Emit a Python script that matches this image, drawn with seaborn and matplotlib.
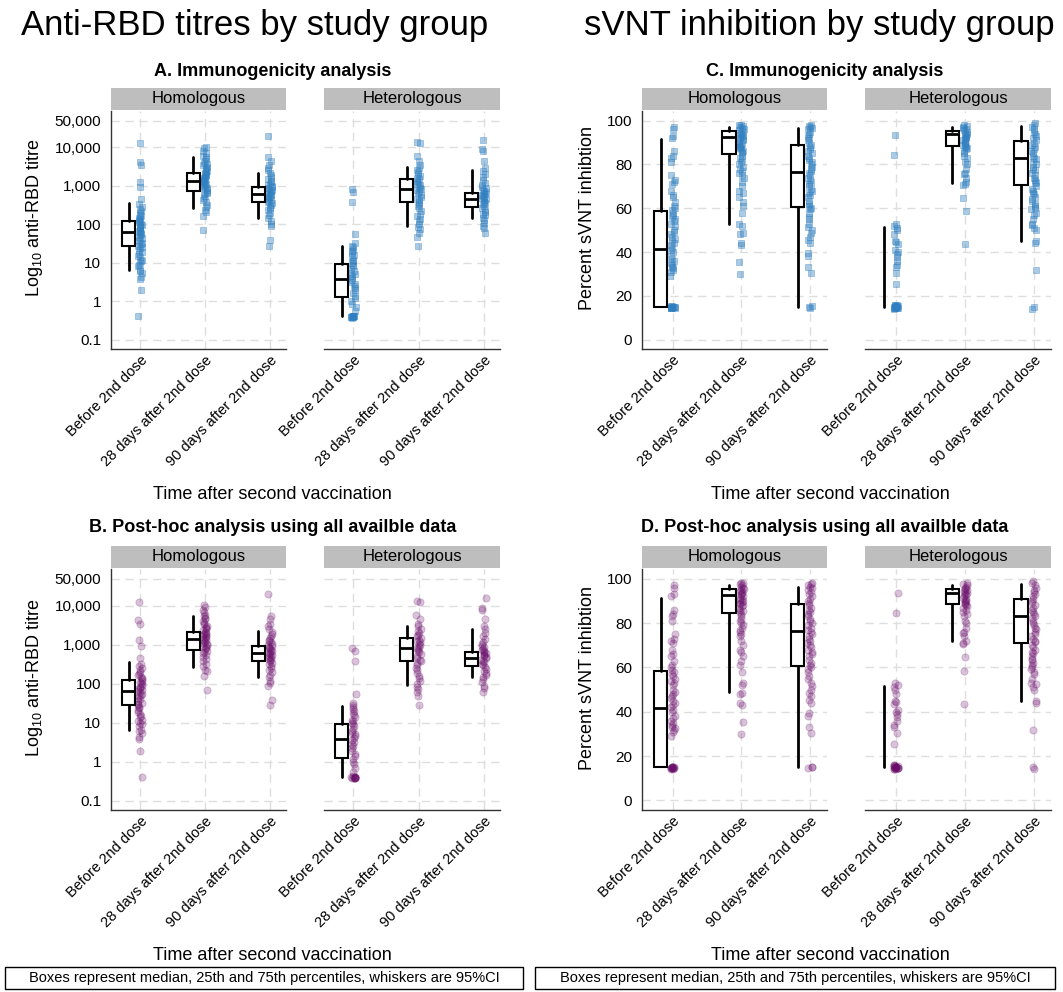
import numpy as np
import pandas as pd
import matplotlib
matplotlib.use("Agg")
import matplotlib.pyplot as plt
from matplotlib.patches import Rectangle
from matplotlib.ticker import NullLocator
import seaborn as sns

# ---- categories / labels ----
times = ["Before 2nd dose", "28 days after 2nd dose", "90 days after 2nd dose"]
groups = ["Homologous", "Heterologous"]
rbd_ticks = [0.1, 1, 10, 100, 1000, 10000, 50000]
rbd_tick_labels = ["0.1", "1", "10", "100", "1,000", "10,000", "50,000"]
svnt_ticks = [0, 20, 40, 60, 80, 100]
svnt_tick_labels = ["0", "20", "40", "60", "80", "100"]

# ---- anti-RBD titre, individual values ----
rbd_homo_pre = [0.4, 1.9, 3.8, 4.2, 5.5, 6.2, 6.5, 8, 9, 10, 11, 12, 14, 15, 17, 19, 21, 24,
                26, 28, 30, 33, 36, 40, 44, 48, 52, 56, 60, 64, 68, 72, 78, 84, 90, 96, 105,
                112, 120, 130, 140, 150, 165, 180, 200, 220, 250, 280, 330, 450, 950, 1300,
                3500, 4300, 13000]
rbd_homo_d28 = [70, 160, 210, 230, 280, 320, 380, 430, 480, 540, 600, 650, 700, 760, 820,
                880, 940, 1000, 1060, 1120, 1180, 1250, 1320, 1400, 1480, 1560, 1650, 1750,
                1850, 1950, 2050, 2200, 2350, 2500, 2700, 2900, 3100, 3400, 3700, 4000, 4500,
                5000, 5500, 6000, 7000, 8000, 9500, 10500]
rbd_homo_d90 = [28, 38, 90, 105, 120, 150, 170, 200, 230, 260, 290, 320, 350, 380, 410, 440,
                470, 500, 530, 560, 590, 620, 660, 700, 740, 780, 830, 880, 940, 1000, 1080,
                1150, 1250, 1350, 1500, 1700, 1900, 2200, 2600, 3000, 3500, 4500, 5500, 20000]
rbd_het_pre = [0.38, 0.38, 0.37, 0.39, 0.4, 0.4, 0.41, 0.4, 0.39, 0.42, 0.55, 0.7, 0.85, 1.0,
               1.2, 1.4, 1.6, 1.9, 2.2, 2.5, 2.8, 3.2, 3.6, 4.0, 4.5, 5, 5.5, 6, 7, 8, 9, 10,
               11, 12, 14, 16, 18, 20, 22, 25, 28, 32, 55, 380, 700, 850]
rbd_het_d28 = [28, 48, 60, 75, 85, 100, 120, 140, 160, 190, 220, 260, 300, 340, 380, 420, 470,
               520, 580, 640, 700, 760, 830, 900, 980, 1060, 1150, 1250, 1350, 1500, 1650,
               1800, 2000, 2300, 2600, 3000, 3500, 4500, 6000, 13000, 13500]
rbd_het_d90 = [60, 78, 90, 110, 130, 150, 170, 190, 210, 240, 270, 300, 330, 360, 390, 420,
               450, 480, 510, 540, 580, 620, 660, 700, 750, 800, 880, 960, 1050, 1200, 1400,
               1700, 2000, 2500, 3000, 4500, 8000, 9000, 16000]

# ---- sVNT percent inhibition, individual values ----
svnt_homo_pre = [14.5, 14.2, 14.8, 14.5, 15.2, 14.6, 14.3, 14.9, 15, 15.1, 14.7, 15.3, 29, 31,
                 32, 32.5, 33, 34, 35, 36, 37, 38, 40, 41, 42, 43, 44, 45, 46, 47, 48, 49, 50,
                 52, 53, 54, 55, 56, 57, 58, 59, 60, 61, 63, 65, 66, 68, 71, 72, 73, 75, 81,
                 83, 84, 86, 92, 93, 96, 97]
svnt_homo_d28 = [30, 35.5, 43, 44, 48, 48.5, 52, 53, 58, 61, 63, 65, 67, 68, 70, 72, 74, 75,
                 76, 77, 78, 79, 80, 81, 82, 83, 84, 85, 85.5, 86, 87, 87.5, 88, 88.5, 89,
                 89.5, 90, 90.5, 91, 91.5, 92, 92.5, 93, 93.5, 94, 94.5, 95, 95.5, 96, 96.5,
                 97, 97.5, 98, 98.2]
svnt_homo_d90 = [14.5, 15, 15.3, 30.5, 33, 38, 39.5, 44, 45.5, 47, 48.5, 50, 51.5, 53, 55, 56,
                 58, 59.5, 60, 61, 62, 63.5, 65, 66, 67, 68, 69, 70, 71, 72, 73, 74, 75, 76,
                 77, 78, 79, 80, 81, 82, 83, 84, 85, 86, 87, 88, 89, 90, 91, 92, 93, 94, 95,
                 96, 96.5, 97, 97.5, 98]
svnt_het_pre = [14, 14.2, 14.5, 14.4, 14.6, 14.5, 14.8, 15, 15.1, 14.9, 15.2, 15, 14.7, 15.5,
                15.4, 15.6, 16, 15.9, 25.5, 30.5, 33, 34, 36, 37.5, 39, 40, 41, 43.5, 44.5, 45,
                48, 50, 51, 52, 53, 84.5, 93.5]
svnt_het_d28 = [43.5, 58.5, 64.5, 70.5, 71, 72, 74, 75.5, 76, 78, 80, 81, 83, 84, 85, 86, 87,
                87.5, 88, 88.5, 89, 89.5, 90, 90.5, 91, 91.5, 92, 92.5, 93, 93.5, 94, 94.5, 95,
                95.5, 96, 96.5, 97, 97.5, 98]
svnt_het_d90 = [14, 15, 32, 44, 45, 50, 51, 52.5, 53, 55, 57, 58, 59.5, 60, 61, 62, 63.5, 64,
                65, 66.5, 67, 68, 69, 70, 71.5, 72, 73, 74, 75, 76, 77.5, 78, 79, 80, 81, 82.5,
                83, 84, 85, 86, 87, 88, 89, 90, 91, 92, 93, 94, 95, 96, 97, 98, 99]

# ---- box summaries: median, 25th/75th percentiles, 95% CI whiskers ----
rbd_homo_med = [65, 1380, 610]
rbd_homo_q1 = [28, 745, 385]
rbd_homo_q3 = [125, 2150, 950]
rbd_homo_lo = [6.5, 270, 145]
rbd_homo_hi = [355, 5500, 2230]
rbd_het_med = [3.7, 825, 460]
rbd_het_q1 = [1.27, 385, 280]
rbd_het_q3 = [9.5, 1500, 670]
rbd_het_lo = [0.4, 91, 145]
rbd_het_hi = [27.5, 3100, 2520]

svnt_homo_med = [41.6, 92.7, 76.6]
svnt_homo_q1 = [15, 84.6, 60.7]
svnt_homo_q3 = [58.6, 95.4, 88.8]
svnt_homo_lo = [15, 52.8, 15]
svnt_homo_hi = [91.5, 97, 96.5]
svnt_homo_lo_posthoc = [15, 49, 15]
svnt_het_med = [15, 93.8, 83.1]
svnt_het_q1 = [15, 88.6, 70.8]
svnt_het_q3 = [15, 95.3, 90.9]
svnt_het_lo = [15, 71.7, 45]
svnt_het_hi = [51.6, 97, 97.6]

BLUE = "#2f7fc0"
PURPLE = "#6a0d6a"

W, H = 1063, 992

sns.set_style("white")
plt.rcParams["font.family"] = ["Liberation Sans", "DejaVu Sans"]
plt.rcParams["mathtext.fontset"] = "custom"
plt.rcParams["mathtext.rm"] = "Liberation Sans"
for key in ["text.color", "axes.labelcolor", "xtick.color", "ytick.color"]:
    plt.rcParams[key] = "black"

fig = plt.figure(figsize=(W / 100, H / 100), dpi=100)


def px_rect(x0, x1, top, bottom):
    return [x0 / W, 1 - bottom / H, (x1 - x0) / W, (bottom - top) / H]


def fig_text(x, y, s, **kw):
    fig.text(x / W, 1 - y / H, s, **kw)


def draw_facet(ax, points, stats, log, color, marker, size, alpha, first):
    df = pd.DataFrame({
        "time": [t for t, vals in zip(times, points) for _ in vals],
        "value": [v for vals in points for v in vals],
    })
    if log:
        ax.set_yscale("log")
    sns.stripplot(data=df, x="time", y="value", order=times, color=color,
                  marker=marker, size=size, alpha=alpha, jitter=0.035,
                  linewidth=0.6, edgecolor=color, ax=ax, zorder=3)
    med, q1, q3, lo, hi = stats
    for i in range(3):
        has_box = q3[i] > q1[i]
        st = dict(med=med[i], q1=q1[i], q3=q3[i], whislo=lo[i], whishi=hi[i], fliers=[])
        ax.bxp([st], positions=[i - 0.18], widths=0.2, showcaps=False,
               showfliers=False, showbox=has_box, patch_artist=True,
               boxprops=dict(facecolor="white", edgecolor="black", linewidth=1.5),
               whiskerprops=dict(color="black", linewidth=2),
               medianprops=dict(color="black", linewidth=2, visible=has_box),
               manage_ticks=False, zorder=4)
    ax.set_xlim(-0.45, 2.25)
    if log:
        ax.set_ylim(0.057, 89000)
        ax.set_yticks(rbd_ticks)
        ax.set_yticklabels(rbd_tick_labels)
        ax.yaxis.set_minor_locator(NullLocator())
    else:
        ax.set_ylim(-4.3, 104.4)
        ax.set_yticks(svnt_ticks)
        ax.set_yticklabels(svnt_tick_labels)
    ax.set_xlabel("")
    ax.set_ylabel("")
    ax.grid(True, axis="both", color="#dedede", linestyle=(0, (6, 4)), linewidth=1)
    ax.set_axisbelow(True)
    ax.tick_params(axis="x", length=0, labelsize=10.5, pad=3)
    plt.setp(ax.get_xticklabels(), rotation=45, ha="right", rotation_mode="anchor")
    for side in ["top", "right"]:
        ax.spines[side].set_visible(False)
    ax.spines["bottom"].set_color("#333333")
    ax.spines["bottom"].set_linewidth(1)
    if first:
        ax.spines["left"].set_color("#333333")
        ax.spines["left"].set_linewidth(1)
        ax.tick_params(axis="y", length=5, width=1, color="#333333", labelsize=11, pad=2)
    else:
        ax.spines["left"].set_visible(False)
        ax.tick_params(axis="y", length=0, labelleft=False)


def draw_strip(x0, x1, top, label):
    sax = fig.add_axes(px_rect(x0, x1, top - 23, top - 1))
    sax.set_facecolor("#bebebe")
    sax.set_xticks([])
    sax.set_yticks([])
    for sp in sax.spines.values():
        sp.set_visible(False)
    sax.text(0.5, 0.5, label, ha="center", va="center", fontsize=12,
             transform=sax.transAxes)


rbd_points = [[rbd_homo_pre, rbd_homo_d28, rbd_homo_d90],
              [rbd_het_pre, rbd_het_d28, rbd_het_d90]]
svnt_points = [[svnt_homo_pre, svnt_homo_d28, svnt_homo_d90],
               [svnt_het_pre, svnt_het_d28, svnt_het_d90]]
rbd_stats = [(rbd_homo_med, rbd_homo_q1, rbd_homo_q3, rbd_homo_lo, rbd_homo_hi),
             (rbd_het_med, rbd_het_q1, rbd_het_q3, rbd_het_lo, rbd_het_hi)]
svnt_stats = [(svnt_homo_med, svnt_homo_q1, svnt_homo_q3, svnt_homo_lo, svnt_homo_hi),
              (svnt_het_med, svnt_het_q1, svnt_het_q3, svnt_het_lo, svnt_het_hi)]
svnt_stats_posthoc = [(svnt_homo_med, svnt_homo_q1, svnt_homo_q3, svnt_homo_lo_posthoc,
                       svnt_homo_hi), svnt_stats[1]]

left_cols = [(111, 286), (324, 500)]
right_cols = [(642, 827), (865, 1051)]
rows = [(111, 349), (569, 810)]

panels = [
    ("A. Immunogenicity analysis", left_cols, rows[0], rbd_points, rbd_stats, True,
     BLUE, "s", 3.8, 0.4, 273, 71),
    ("B. Post-hoc analysis using all availble data", left_cols, rows[1], rbd_points,
     rbd_stats, True, PURPLE, "o", 5.2, 0.25, 273, 528),
    ("C. Immunogenicity analysis", right_cols, rows[0], svnt_points, svnt_stats, False,
     BLUE, "s", 3.8, 0.4, 825, 71),
    ("D. Post-hoc analysis using all availble data", right_cols, rows[1], svnt_points,
     svnt_stats_posthoc, False, PURPLE, "o", 5.2, 0.25, 825, 528),
]

np.random.seed(7)
for title, cols, (top, bottom), pts, stats, log, color, marker, size, alpha, tx, ty in panels:
    for g, (x0, x1) in enumerate(cols):
        ax = fig.add_axes(px_rect(x0, x1, top, bottom))
        draw_facet(ax, pts[g], stats[g], log, color, marker, size, alpha, g == 0)
        draw_strip(x0, x1, top, groups[g])
    fig_text(tx, ty, title, ha="center", va="center", fontsize=13, fontweight="bold")
    ylab = r"Log$_{\mathrm{10}}$ anti-RBD titre" if log else "Percent sVNT inhibtion"
    ylx = 35 if cols[0][0] < 500 else 587
    fig_text(ylx, (top + bottom) / 2 - 12, ylab, rotation=90, ha="center", va="center",
             fontsize=13)

# main titles
fig_text(255, 25, "Anti-RBD titres by study group", ha="center", va="center", fontsize=25)
fig_text(819, 25, "sVNT inhibition by study group", ha="center", va="center", fontsize=25)

# x-axis titles
for xc in [272, 830]:
    fig_text(xc, 494, "Time after second vaccination", ha="center", va="center", fontsize=13)
    fig_text(xc, 955, "Time after second vaccination", ha="center", va="center", fontsize=13)

# footnote boxes
note = "Boxes represent median, 25th and 75th percentiles, whiskers are 95%CI"
for x0, x1 in [(5, 523), (535, 1055)]:
    fig.add_artist(Rectangle((x0 / W, 1 - 989 / H), (x1 - x0) / W, 22 / H,
                             transform=fig.transFigure, facecolor="white",
                             edgecolor="black", linewidth=1))
    fig_text((x0 + x1) / 2, 978, note, ha="center", va="center", fontsize=10.5)

fig.savefig("out.png", dpi=100)
